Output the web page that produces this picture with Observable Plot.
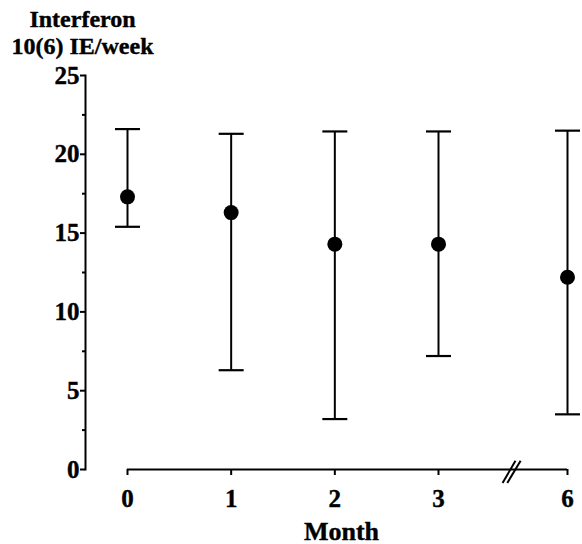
<!DOCTYPE html>
<html>
<head>
<meta charset="utf-8">
<script src="https://cdn.jsdelivr.net/npm/d3@7"></script>
<script src="https://cdn.jsdelivr.net/npm/@observablehq/plot@0.6"></script>
<style>
  html, body { margin: 0; padding: 0; background: #fff; }
</style>
</head>
<body>
<div id="chart"></div>
<script>
// Data
const months = [0, 1, 2, 3, 6];
const means  = [17.3, 16.3, 14.3, 14.3, 12.2];
const upper  = [21.6, 21.3, 21.45, 21.45, 21.5];
const lower  = [15.4, 6.3, 3.2, 7.2, 3.5];

const yMajorTicks = [0, 5, 10, 15, 20, 25];
const yMinorTicks = [2.5, 7.5, 12.5, 17.5, 22.5];
const xTicks = [0, 1, 2, 3, 6];

// axis break marks ("//") between month 3 and 6
const breakX1 = [4.49, 4.60];
const breakX2 = [4.79, 4.91];
const breakY1 = -0.85;
const breakY2 = 0.55;

const titleLines = ["Interferon", "10(6) IE/week"];
const xLabel = "Month";

const rows = months.map((m, i) => ({month: m, mean: means[i], hi: upper[i], lo: lower[i]}));
const breaks = breakX1.map((x1, i) => ({x1, x2: breakX2[i], y1: breakY1, y2: breakY2}));

const capSymbol = {
  draw(context) {
    context.moveTo(-12.5, 0);
    context.lineTo(12.5, 0);
  }
};

const serif = "'Liberation Serif', 'Times New Roman', serif";

const chart = Plot.plot({
  width: 582,
  height: 544,
  marginLeft: 85,
  marginRight: 15,
  marginTop: 75,
  marginBottom: 75,
  style: {fontFamily: serif, fontSize: "25px", fontWeight: "bold", color: "black", background: "white"},
  x: {type: "linear", domain: [0, 3, 6], range: [127, 438, 567]},
  y: {domain: [0, 25]},
  marks: [
    Plot.frame({anchor: "left", stroke: "black", strokeWidth: 2, strokeOpacity: 1}),
    Plot.axisY({ticks: yMinorTicks, tickSize: 3, text: null, strokeWidth: 2, label: null}),
    Plot.axisY({ticks: yMajorTicks, tickSize: 5, tickPadding: 1, strokeWidth: 2, label: null, fontSize: 25, tickFormat: "d", textStroke: "black", textStrokeWidth: 0.4}),
    Plot.ruleY([0], {x1: months[0], x2: months[months.length - 1], stroke: "black", strokeWidth: 2}),
    Plot.axisX({ticks: xTicks, tickSize: 6, tickPadding: 14, strokeWidth: 2, label: null, fontSize: 25, tickFormat: "d", textStroke: "black", textStrokeWidth: 0.4}),
    Plot.link(breaks, {x1: "x1", x2: "x2", y1: "y1", y2: "y2", stroke: "black", strokeWidth: 2}),
    Plot.ruleX(rows, {x: "month", y1: "lo", y2: "hi", stroke: "black", strokeWidth: 2}),
    Plot.dot(rows, {x: "month", y: "hi", symbol: capSymbol, stroke: "black", fill: "none", strokeWidth: 2.2}),
    Plot.dot(rows, {x: "month", y: "lo", symbol: capSymbol, stroke: "black", fill: "none", strokeWidth: 2.2}),
    Plot.dot(rows, {x: "month", y: "mean", r: 7.5, fill: "black", stroke: "none"}),
    Plot.text([titleLines[0]], {frameAnchor: "top-left", dx: -3, dy: -49, lineAnchor: "bottom", textAnchor: "middle", fontSize: 24, fontWeight: "bold", fill: "black", stroke: "black", strokeWidth: 0.4}),
    Plot.text([titleLines[1]], {frameAnchor: "top-left", dx: -3, dy: -22, lineAnchor: "bottom", textAnchor: "middle", fontSize: 24, fontWeight: "bold", fill: "black", stroke: "black", strokeWidth: 0.4}),
    Plot.text([xLabel], {frameAnchor: "bottom", dx: 15, dy: 70, lineAnchor: "bottom", textAnchor: "middle", fontSize: 26, fontWeight: "bold", fill: "black", stroke: "black", strokeWidth: 0.4})
  ]
});
document.getElementById("chart").append(chart);
</script>
</body>
</html>
